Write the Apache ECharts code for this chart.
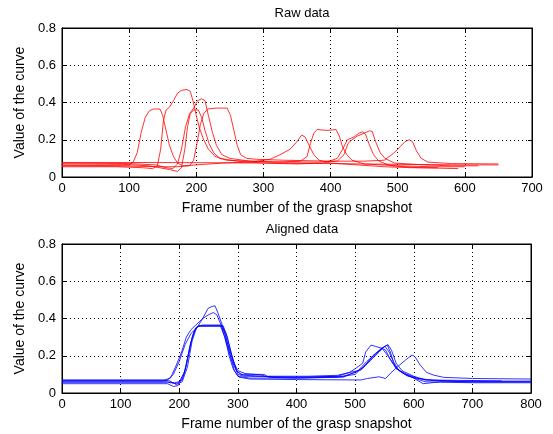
<!DOCTYPE html>
<html>
<head>
<meta charset="utf-8">
<script src="https://cdn.jsdelivr.net/npm/echarts@6/dist/echarts.min.js"></script>
<style>
html,body{margin:0;padding:0;background:#fff;}
#chart{width:553px;height:434px;}
</style>
</head>
<body>
<div id="chart"></div>
<script>
// ---- Data ----
var rawTitle = "Raw data";
var alignedTitle = "Aligned data";
var xName = "Frame number of the grasp snapshot";
var yName = "Value of the curve";

var rawXTicks = [0, 700, 100];
var alignedXTicks = [0, 800, 100];
var yTicks = [0, 0.8, 0.2];

// Raw curves: [frame, value]
var rawA = [[0,0.063],[60,0.062],[100,0.063],[106,0.08],[112,0.13],[118,0.24],[124,0.32],[130,0.355],[136,0.365],[146,0.365],[150,0.33],[155,0.25],[160,0.17],[166,0.11],[172,0.075],[180,0.06],[200,0.065],[240,0.075],[280,0.08],[310,0.095],[325,0.12],[340,0.15],[350,0.19],[357,0.225],[362,0.215],[368,0.17],[375,0.12],[383,0.09],[400,0.075],[440,0.065],[480,0.055],[520,0.05],[560,0.05]];
var rawB = [[0,0.055],[80,0.055],[120,0.05],[135,0.045],[142,0.06],[147,0.15],[151,0.3],[155,0.36],[160,0.375],[166,0.41],[172,0.45],[178,0.465],[186,0.47],[191,0.46],[195,0.41],[200,0.33],[205,0.26],[211,0.2],[218,0.15],[228,0.11],[245,0.09],[280,0.085],[320,0.08],[355,0.085],[365,0.11],[370,0.18],[375,0.235],[380,0.255],[395,0.25],[408,0.255],[413,0.22],[418,0.16],[424,0.12],[432,0.09],[450,0.07],[500,0.06],[550,0.055],[600,0.055]];
var rawC = [[0,0.07],[90,0.068],[130,0.06],[160,0.04],[172,0.03],[178,0.05],[183,0.15],[187,0.27],[191,0.34],[196,0.36],[203,0.36],[208,0.32],[213,0.25],[219,0.18],[226,0.13],[235,0.1],[260,0.085],[300,0.075],[350,0.07],[390,0.075],[410,0.1],[418,0.15],[425,0.2],[435,0.215],[442,0.235],[448,0.243],[452,0.23],[457,0.18],[464,0.12],[472,0.085],[490,0.06],[530,0.05],[590,0.045]];
var rawD = [[0,0.075],[100,0.072],[140,0.065],[155,0.05],[165,0.045],[172,0.07],[178,0.15],[184,0.27],[190,0.34],[196,0.37],[202,0.41],[208,0.42],[213,0.41],[218,0.33],[224,0.24],[230,0.17],[238,0.12],[250,0.1],[280,0.085],[330,0.08],[380,0.08],[410,0.085],[420,0.12],[426,0.18],[432,0.2],[440,0.22],[450,0.235],[458,0.248],[462,0.245],[467,0.19],[474,0.13],[481,0.1],[495,0.075],[540,0.065],[580,0.06],[620,0.06]];
var rawE = [[0,0.06],[100,0.058],[150,0.055],[170,0.055],[190,0.06],[196,0.09],[201,0.18],[206,0.28],[211,0.34],[217,0.365],[230,0.37],[246,0.37],[251,0.33],[256,0.25],[261,0.17],[266,0.12],[275,0.1],[290,0.095],[330,0.09],[400,0.085],[450,0.085],[480,0.09],[494,0.128],[504,0.164],[511,0.19],[517,0.2],[522,0.19],[528,0.14],[535,0.1],[545,0.08],[580,0.072],[650,0.07]];
var rawF = [[0,0.078],[100,0.078],[200,0.077],[300,0.075],[400,0.072],[500,0.068],[600,0.065],[650,0.065]];

// Aligned curves: [frame, value]
var alnA = [[0,0.065],[100,0.065],[170,0.065],[180,0.07],[190,0.1],[200,0.17],[210,0.26],[220,0.32],[230,0.35],[240,0.4],[249,0.454],[256,0.465],[261,0.468],[266,0.43],[275,0.35],[283,0.26],[292,0.17],[300,0.12],[312,0.105],[330,0.1],[340,0.097],[346,0.09],[360,0.085],[420,0.085],[470,0.09],[490,0.11],[500,0.13],[513,0.16],[518,0.22],[527,0.257],[535,0.25],[546,0.24],[557,0.195],[569,0.14],[580,0.11],[600,0.08],[620,0.06],[700,0.055],[800,0.055]];
var alnB = [[0,0.07],[100,0.07],[175,0.07],[185,0.08],[195,0.15],[204,0.22],[212,0.3],[220,0.34],[230,0.37],[240,0.4],[250,0.42],[258,0.432],[264,0.42],[272,0.36],[280,0.27],[289,0.18],[298,0.115],[310,0.095],[350,0.09],[420,0.09],[470,0.095],[490,0.11],[510,0.123],[527,0.177],[541,0.22],[550,0.25],[555,0.257],[560,0.22],[566,0.16],[571,0.13],[585,0.105],[605,0.08],[640,0.065],[700,0.06],[800,0.06]];
var alnC = [[0,0.05],[100,0.05],[180,0.05],[190,0.035],[198,0.04],[208,0.1],[215,0.2],[222,0.3],[228,0.35],[235,0.36],[270,0.36],[278,0.3],[285,0.2],[292,0.13],[300,0.09],[320,0.08],[400,0.08],[470,0.085],[500,0.1],[520,0.16],[535,0.21],[546,0.24],[552,0.23],[560,0.18],[570,0.13],[585,0.1],[600,0.08],[616,0.05],[645,0.06],[700,0.06],[800,0.06]];
var alnD = [[0,0.058],[100,0.058],[180,0.058],[195,0.05],[205,0.07],[213,0.16],[220,0.27],[226,0.33],[232,0.36],[275,0.36],[282,0.3],[288,0.22],[294,0.15],[300,0.1],[310,0.09],[400,0.085],[480,0.09],[500,0.11],[515,0.14],[530,0.2],[545,0.24],[551,0.25],[558,0.22],[565,0.17],[575,0.12],[590,0.09],[620,0.07],[680,0.064],[800,0.064]];
var alnE = [[0,0.06],[100,0.06],[180,0.06],[192,0.055],[200,0.06],[210,0.12],[218,0.25],[225,0.33],[232,0.36],[272,0.36],[279,0.31],[287,0.2],[294,0.12],[302,0.085],[320,0.075],[400,0.072],[510,0.07],[521,0.078],[541,0.087],[552,0.078],[560,0.105],[572,0.14],[586,0.177],[597,0.204],[602,0.195],[611,0.15],[622,0.11],[634,0.096],[651,0.084],[700,0.078],[800,0.075]];
var alnF = [[0,0.068],[100,0.068],[182,0.068],[195,0.045],[205,0.06],[214,0.14],[222,0.28],[230,0.355],[240,0.365],[272,0.365],[280,0.32],[290,0.2],[298,0.12],[305,0.1],[320,0.1],[345,0.1],[352,0.085],[400,0.08],[480,0.085],[505,0.12],[520,0.17],[535,0.21],[548,0.245],[556,0.26],[562,0.23],[570,0.16],[580,0.12],[600,0.09],[620,0.07],[750,0.065]];

var rawCurves = [rawA, rawB, rawC, rawD, rawE, rawF];
var alignedCurves = [alnA, alnB, alnC, alnD, alnE, alnF];

// ---- Chart ----
var FONT = "Liberation Sans, Arial, sans-serif";
var grids = [
  {left: 62, top: 28, width: 470, height: 149, show: true, borderColor: '#000', borderWidth: 1, backgroundColor: 'transparent'},
  {left: 62, top: 244, width: 469, height: 149, show: true, borderColor: '#000', borderWidth: 1, backgroundColor: 'transparent'}
];

function xAxisMain(gi, t) {
  return {
    type: 'value', gridIndex: gi, min: t[0], max: t[1], interval: t[2],
    name: xName, nameLocation: 'middle', nameGap: 24,
    nameTextStyle: {color: '#000', fontSize: 14, fontFamily: FONT},
    axisLine: {show: true, onZero: false, lineStyle: {color: '#000', width: 1}},
    axisTick: {show: true, inside: true, length: 4, lineStyle: {color: '#000'}},
    axisLabel: {color: '#000', fontSize: 13, fontFamily: FONT, margin: 5},
    splitLine: {show: true, lineStyle: {color: '#000', type: [1, 3], width: 1}}
  };
}
function xAxisTop(gi, t) {
  return {
    type: 'value', gridIndex: gi, min: t[0], max: t[1], interval: t[2], position: 'top',
    axisLine: {show: true, onZero: false, lineStyle: {color: '#000'}},
    axisTick: {show: true, inside: true, length: 4, lineStyle: {color: '#000'}},
    axisLabel: {show: false}, splitLine: {show: false}
  };
}
function yAxisMain(gi) {
  return {
    type: 'value', gridIndex: gi, min: yTicks[0], max: yTicks[1], interval: yTicks[2],
    name: yName, nameLocation: 'middle', nameGap: 32,
    nameTextStyle: {color: '#000', fontSize: 14, fontFamily: FONT},
    axisLine: {show: true, onZero: false, lineStyle: {color: '#000', width: 1}},
    axisTick: {show: true, inside: true, length: 4, lineStyle: {color: '#000'}},
    axisLabel: {color: '#000', fontSize: 13, fontFamily: FONT, margin: 6,
      formatter: function (v) { return v === 0 ? '0' : String(Math.round(v * 10) / 10); }},
    splitLine: {show: true, lineStyle: {color: '#000', type: [1, 3], width: 1}}
  };
}
function yAxisRight(gi) {
  return {
    type: 'value', gridIndex: gi, min: yTicks[0], max: yTicks[1], interval: yTicks[2], position: 'right',
    axisLine: {show: true, onZero: false, lineStyle: {color: '#000'}},
    axisTick: {show: true, inside: true, length: 4, lineStyle: {color: '#000'}},
    axisLabel: {show: false}, splitLine: {show: false}
  };
}

var series = [];
rawCurves.forEach(function (c) {
  series.push({type: 'line', xAxisIndex: 0, yAxisIndex: 0, data: c, showSymbol: false, symbol: 'none',
    lineStyle: {color: '#ff0000', width: 1, opacity: 0.8}, silent: true});
});
alignedCurves.forEach(function (c) {
  series.push({type: 'line', xAxisIndex: 2, yAxisIndex: 2, data: c, showSymbol: false, symbol: 'none',
    lineStyle: {color: '#0000ff', width: 1, opacity: 0.8}, silent: true});
});

var option = {
  animation: false,
  backgroundColor: '#fff',
  title: [
    {text: rawTitle, left: 297, top: 2, textAlign: 'center', textStyle: {color: '#000', fontSize: 13, fontWeight: 'normal', fontFamily: FONT}},
    {text: alignedTitle, left: 297, top: 218, textAlign: 'center', textStyle: {color: '#000', fontSize: 13, fontWeight: 'normal', fontFamily: FONT}}
  ],
  grid: grids,
  xAxis: [xAxisMain(0, rawXTicks), xAxisTop(0, rawXTicks), xAxisMain(1, alignedXTicks), xAxisTop(1, alignedXTicks)],
  yAxis: [yAxisMain(0), yAxisRight(0), yAxisMain(1), yAxisRight(1)],
  series: series
};

var chart = echarts.init(document.getElementById('chart'), null, {renderer: 'canvas'});
chart.setOption(option);
</script>
</body>
</html>
